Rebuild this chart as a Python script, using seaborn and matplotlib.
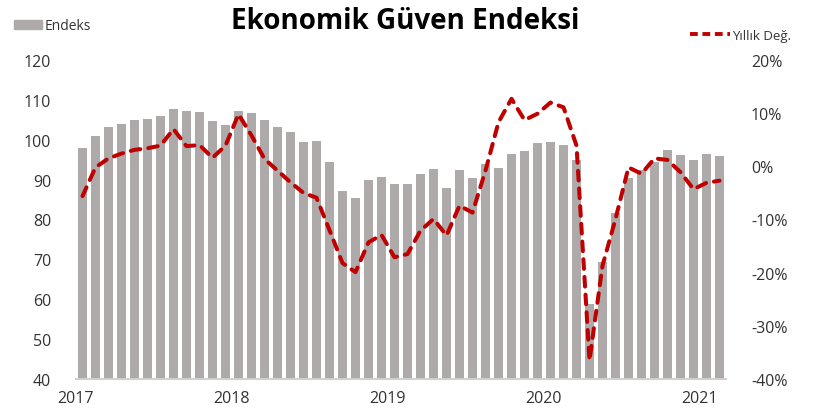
# -*- coding: utf-8 -*-
import matplotlib
matplotlib.use('Agg')
import numpy as np
import pandas as pd
import matplotlib.pyplot as plt
import seaborn as sns
from matplotlib.patches import Patch
from matplotlib.lines import Line2D

# aylik veriler, Ocak 2017 - Subat 2021
aylar = pd.date_range('2017-01-01', '2021-02-01', freq='MS')
endeks = [97.9, 101.0, 103.1, 104.0, 105.0, 105.2, 106.0, 107.8, 107.3, 107.0, 104.7, 103.7,
          107.3, 106.7, 105.0, 103.1, 101.9, 99.5, 99.7, 94.4, 87.2, 85.4, 89.9, 90.6,
          88.8, 88.8, 91.4, 92.7, 88.0, 92.4, 90.4, 94.0, 92.9, 96.4, 97.2, 99.3,
          99.4, 98.7, 95.0, 58.8, 69.3, 81.6, 90.4, 92.4, 94.5, 97.4, 96.1, 94.8,
          96.4, 95.9]
yillik_deg = [-5.6, -0.2, 1.5, 2.4, 3.1, 3.4, 3.9, 7.0, 3.8, 4.0, 1.6, 3.9,
              9.8, 5.8, 1.4, -0.8, -3.0, -5.0, -5.9, -12.0, -18.2, -19.9, -14.3, -12.9,
              -17.1, -16.5, -12.1, -9.9, -13.0, -7.4, -8.7, -0.8, 8.3, 12.7, 8.7, 9.9,
              12.0, 11.1, 3.9, -36.5, -18.7, -9.9, -0.2, -1.4, 1.5, 1.2, -1.1, -4.3,
              -3.1, -2.7]
yillar = ['2017', '2018', '2019', '2020', '2021']

df = pd.DataFrame({'ay': aylar, 'endeks': endeks, 'yillik': yillik_deg})
df['i'] = np.arange(len(df))

sns.set_style('white')
plt.rcParams['font.family'] = ['Open Sans', 'DejaVu Sans']

bar_renk = '#AEAAA9'
kirmizi = '#C00000'

fig = plt.figure(figsize=(8.32, 4.14), dpi=100)
ax = fig.add_axes([76/832, 34/414, 650/832, 319/414])

sns.barplot(data=df, x='i', y='endeks', color=bar_renk, width=0.67,
            saturation=1, ax=ax, edgecolor='none')
ax.set_ylim(40, 120)
ax.set_yticks(np.arange(40, 121, 10))
ax.set_xlim(-0.5, len(df) - 0.5)

# yil basi tikleri
tik_yer = [df.index[df['ay'].dt.year == int(y)][0] - 0.5 for y in yillar]
ax.set_xticks(tik_yer)
ax.set_xticklabels(yillar)
ax.set_xlabel('')
ax.set_ylabel('')

ax2 = ax.twinx()
sns.lineplot(data=df, x='i', y='yillik', ax=ax2, color=kirmizi, linewidth=2.9)
ax2.lines[0].set_dashes((2.4, 2.0))
ax2.lines[0].set_dash_capstyle('round')
ax2.set_ylim(-40, 20)
ax2.set_yticks(np.arange(-40, 21, 10))
ax2.set_yticklabels([f'{v}%' for v in range(-40, 21, 10)])
ax2.set_ylabel('')
ax2.set_xlim(-0.5, len(df) - 0.5)

for a in (ax, ax2):
    for s in ('left', 'right', 'top'):
        a.spines[s].set_visible(False)
    a.spines['bottom'].set_color('#D0D0D0')
    a.spines['bottom'].set_linewidth(1.2)

ax.tick_params(axis='x', direction='out', length=5, width=1.2, color='#D0D0D0',
               labelsize=11.5, labelcolor='#333333', pad=3)
ax.tick_params(axis='y', length=0, labelsize=11.5, labelcolor='#333333', pad=18)
ax2.tick_params(axis='y', length=0, labelsize=11.5, labelcolor='#333333', pad=18)

fig.text(0.487, 0.948, 'Ekonomik Güven Endeksi', ha='center', va='center',
         fontsize=20, fontweight='bold', color='black')

fig.legend(handles=[Patch(color=bar_renk, label='Endeks')], loc='center left',
           bbox_to_anchor=(0.002, 0.935), frameon=False, fontsize=10,
           handlelength=2.0, handleheight=0.6, handletextpad=0.2, labelcolor='#333333')
fig.legend(handles=[Line2D([], [], color=kirmizi, lw=2.8, dashes=(2.0, 1.2),
                           label='Yıllık Değ.')],
           loc='center left', bbox_to_anchor=(0.815, 0.913), frameon=False,
           fontsize=9.5, handlelength=3, handletextpad=0.2, labelcolor='#333333')

fig.savefig('out.png', dpi=100)
